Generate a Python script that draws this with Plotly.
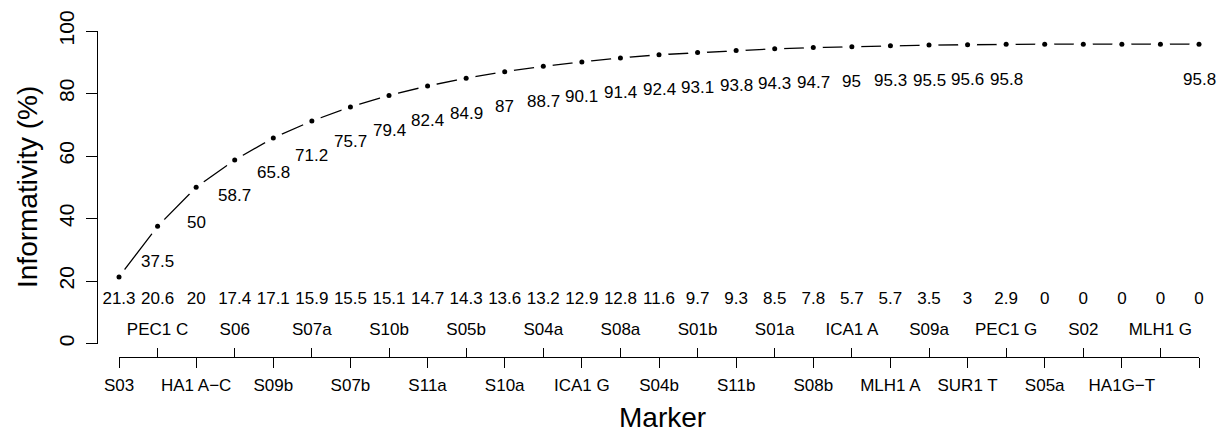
import plotly.graph_objects as go

W, H = 1219, 430

markers = ["S03", "PEC1 C", "HA1 A−C", "S06", "S09b", "S07a", "S07b", "S10b",
           "S11a", "S05b", "S10a", "S04a", "ICA1 G", "S08a", "S04b", "S01b",
           "S11b", "S01a", "S08b", "ICA1 A", "MLH1 A", "S09a", "SUR1 T",
           "PEC1 G", "S05a", "S02", "HA1G−T", "MLH1 G", ""]
cumulative = [21.3, 37.5, 50, 58.7, 65.8, 71.2, 75.7, 79.4, 82.4, 84.9, 87,
              88.7, 90.1, 91.4, 92.4, 93.1, 93.8, 94.3, 94.7, 95, 95.3, 95.5,
              95.6, 95.8, 95.8, 95.8, 95.8, 95.8, 95.8]
cumulative_labels = ["", "37.5", "50", "58.7", "65.8", "71.2", "75.7", "79.4",
                     "82.4", "84.9", "87", "88.7", "90.1", "91.4", "92.4",
                     "93.1", "93.8", "94.3", "94.7", "95", "95.3", "95.5",
                     "95.6", "95.8", "", "", "", "", "95.8"]
individual = [21.3, 20.6, 20, 17.4, 17.1, 15.9, 15.5, 15.1, 14.7, 14.3, 13.6,
              13.2, 12.9, 12.8, 11.6, 9.7, 9.3, 8.5, 7.8, 5.7, 5.7, 3.5, 3,
              2.9, 0, 0, 0, 0, 0]
y_ticks = [0, 20, 40, 60, 80, 100]

idx = list(range(len(markers)))
FONT = "Liberation Sans, Arial, sans-serif"
INDIV_ROW_Y = 14.0
FS = 17

fig = go.Figure()
# solid connecting line
fig.add_trace(go.Scatter(x=idx, y=cumulative, mode="lines",
                         line=dict(color="black", width=1.3),
                         cliponaxis=False, hoverinfo="skip", showlegend=False))
# white halos -> gaps around points (R type="b")
fig.add_trace(go.Scatter(x=idx, y=cumulative, mode="markers",
                         marker=dict(color="white", size=19, line=dict(width=0)),
                         cliponaxis=False, hoverinfo="skip", showlegend=False))
# points
fig.add_trace(go.Scatter(x=idx, y=cumulative, mode="markers",
                         marker=dict(color="black", size=5, line=dict(width=0)),
                         cliponaxis=False, showlegend=False))
# individual values row
fig.add_trace(go.Scatter(x=idx, y=[INDIV_ROW_Y] * len(idx), mode="text",
                         text=[f"{v:g}" for v in individual],
                         textfont=dict(family=FONT, size=FS, color="black"),
                         xaxis="x2", yaxis="y", cliponaxis=False,
                         hoverinfo="skip", showlegend=False))

for i, (c, lab) in enumerate(zip(cumulative, cumulative_labels)):
    if lab:
        fig.add_annotation(x=i, y=c, text=lab, showarrow=False, yshift=-35,
                           xanchor="center", yanchor="middle",
                           font=dict(family=FONT, size=FS, color="black"))

xdom = [119 / W, 1199 / W]
xpos = 1 - 356.7 / H
lower = [i for i in idx if i % 2 == 0]
upper = [i for i in idx if i % 2 == 1]

fig.update_layout(
    width=W, height=H,
    margin=dict(l=0, r=0, t=0, b=0, autoexpand=False),
    paper_bgcolor="white", plot_bgcolor="white",
    showlegend=False,
    xaxis=dict(domain=xdom, range=[0, len(idx) - 1], anchor="free",
               position=xpos, side="bottom", automargin=False,
               showline=True, linecolor="black", linewidth=1,
               ticks="outside", ticklen=10, tickwidth=1, tickcolor="black",
               tickvals=lower, ticktext=[markers[i] for i in lower],
               tickfont=dict(family=FONT, size=FS, color="black"),
               ticklabelstandoff=3,
               showgrid=False, zeroline=False),
    xaxis2=dict(domain=xdom, range=[0, len(idx) - 1], anchor="free",
                position=xpos, side="top", overlaying="x", automargin=False,
                showline=False,
                ticks="outside", ticklen=9, tickwidth=1, tickcolor="black",
                tickvals=upper, ticktext=[markers[i] for i in upper],
                tickfont=dict(family=FONT, size=FS, color="black"),
                ticklabelstandoff=6,
                showgrid=False, zeroline=False),
    yaxis=dict(domain=[1 - 343.5 / H, 1 - 31 / H], range=[0, 100],
               anchor="free", position=97 / W, automargin=False,
               showline=True, linecolor="black", linewidth=1,
               ticks="outside", ticklen=11, tickwidth=1, tickcolor="black",
               tickvals=y_ticks, tickangle=-90,
               tickfont=dict(family=FONT, size=21, color="black"),
               ticklabelstandoff=4,
               showgrid=False, zeroline=False),
)

fig.add_annotation(text="Informativity (%)", xref="paper", yref="paper",
                   x=27 / W, y=1 - 187 / H, textangle=-90, showarrow=False,
                   xanchor="center", yanchor="middle",
                   font=dict(family=FONT, size=28, color="black"))
fig.add_annotation(text="Marker", xref="paper", yref="paper",
                   x=662 / W, y=1 - 417 / H, showarrow=False,
                   xanchor="center", yanchor="middle",
                   font=dict(family=FONT, size=28, color="black"))

fig.write_html("out.html")
